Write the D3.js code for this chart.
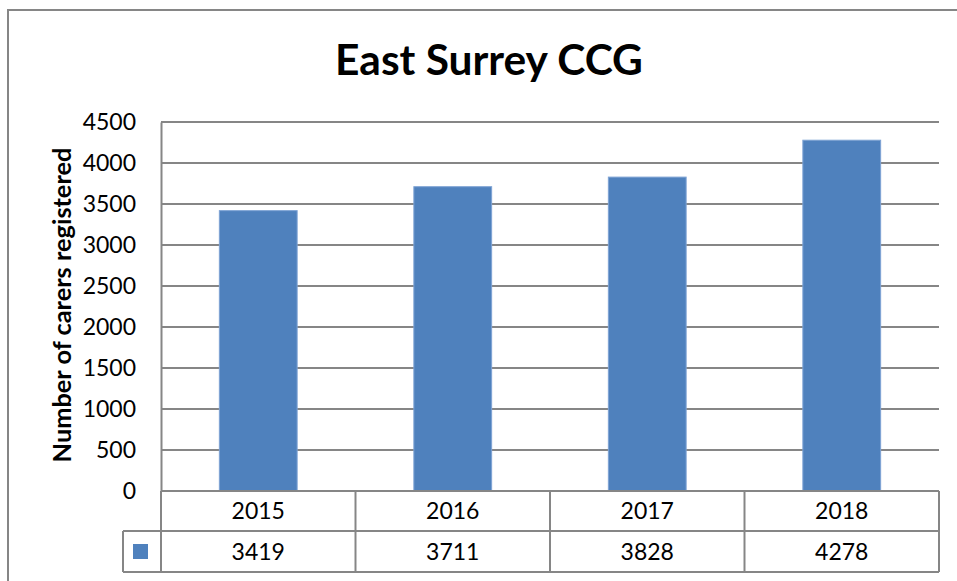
<!DOCTYPE html>
<html><head><meta charset="utf-8">
<script src="https://cdn.jsdelivr.net/npm/d3@7"></script>
<style>body{margin:0;background:#fff}svg{display:block}</style>
</head><body>
<script>
const categories = ["2015","2016","2017","2018"];
const values = [3419,3711,3828,4278];
const yTicks = [0,500,1000,1500,2000,2500,3000,3500,4000,4500];
const title = "East Surrey CCG";
const yLabel = "Number of carers registered";

const W = 957, H = 581;
const font = "Lato, 'Open Sans', sans-serif";
const fs = 23;
const gray = "#868686";
const svg = d3.select("body").append("svg").attr("width", W).attr("height", H);

// outer chart border
svg.append("rect").attr("x", 8).attr("y", 10).attr("width", W + 20).attr("height", H + 20)
  .attr("fill", "#fff").attr("stroke", gray).attr("stroke-width", 2);

const L = 161, R = 939, T = 122, B = 491;
const x = d3.scaleBand().domain(categories).range([L, R]).paddingInner(0.6).paddingOuter(0.3);
const xc = d3.scaleBand().domain(categories).range([L, R]);
const y = d3.scaleLinear().domain([0, 4500]).range([B, T]);

// gridlines
svg.append("g").selectAll("line").data(yTicks).join("line")
  .attr("x1", L).attr("x2", R).attr("y1", d => y(d)).attr("y2", d => y(d))
  .attr("stroke", gray).attr("stroke-width", 2);

// y axis
const ya = svg.append("g").attr("transform", `translate(${L},0)`)
  .call(d3.axisLeft(y).tickValues(yTicks).tickFormat(d3.format("d")).tickSize(0).tickPadding(25));
ya.select(".domain").attr("stroke", gray).attr("stroke-width", 2);
ya.selectAll("text").attr("font-family", font).attr("font-size", fs).attr("fill", "#000");

// bars
svg.append("g").selectAll("rect").data(values).join("rect")
  .attr("x", (d, i) => x(categories[i])).attr("width", x.bandwidth())
  .attr("y", d => y(d)).attr("height", d => B - y(d))
  .attr("fill", "#4F81BD").attr("stroke", "#7EA3D4").attr("stroke-width", 1);

// data table
const r1 = 531, r2 = 572, keyL = 123;
const tg = svg.append("g").attr("stroke", gray).attr("stroke-width", 2).attr("fill", "none");
tg.append("line").attr("x1", L).attr("x2", R).attr("y1", B).attr("y2", B);
tg.append("line").attr("x1", keyL).attr("x2", R).attr("y1", r1).attr("y2", r1);
tg.append("line").attr("x1", keyL).attr("x2", R).attr("y1", r2).attr("y2", r2);
tg.append("line").attr("x1", keyL).attr("x2", keyL).attr("y1", r1).attr("y2", r2);
tg.selectAll("line.col").data(categories.concat(["end"])).join("line").attr("class", "col")
  .attr("x1", d => d === "end" ? R : xc(d)).attr("x2", d => d === "end" ? R : xc(d))
  .attr("y1", B).attr("y2", r2);

svg.append("g").selectAll("text").data(categories).join("text")
  .attr("x", d => xc(d) + xc.bandwidth() / 2).attr("y", (B + r1) / 2 + 8)
  .attr("text-anchor", "middle").attr("font-family", font).attr("font-size", fs).text(d => d);
svg.append("g").selectAll("text").data(values).join("text")
  .attr("x", (d, i) => xc(categories[i]) + xc.bandwidth() / 2).attr("y", (r1 + r2) / 2 + 8)
  .attr("text-anchor", "middle").attr("font-family", font).attr("font-size", fs).text(d => d);
svg.append("rect").attr("x", 133).attr("y", 544).attr("width", 15).attr("height", 15).attr("fill", "#4F81BD");

// title
const t = svg.append("text").attr("x", 489).attr("y", 75).attr("text-anchor", "middle")
  .attr("font-family", font).attr("font-weight", "bold").attr("font-size", 40).text(title);
const tw = t.node().getComputedTextLength();
t.attr("font-size", 40 * 308 / tw);

// y label
const yl = svg.append("text").attr("transform", "translate(71,305) rotate(-90)").attr("text-anchor", "middle")
  .attr("font-family", font).attr("font-weight", "bold").attr("font-size", 20).text(yLabel);
const yw = yl.node().getComputedTextLength();
yl.attr("font-size", 20 * 315 / yw);
</script>
</body></html>
